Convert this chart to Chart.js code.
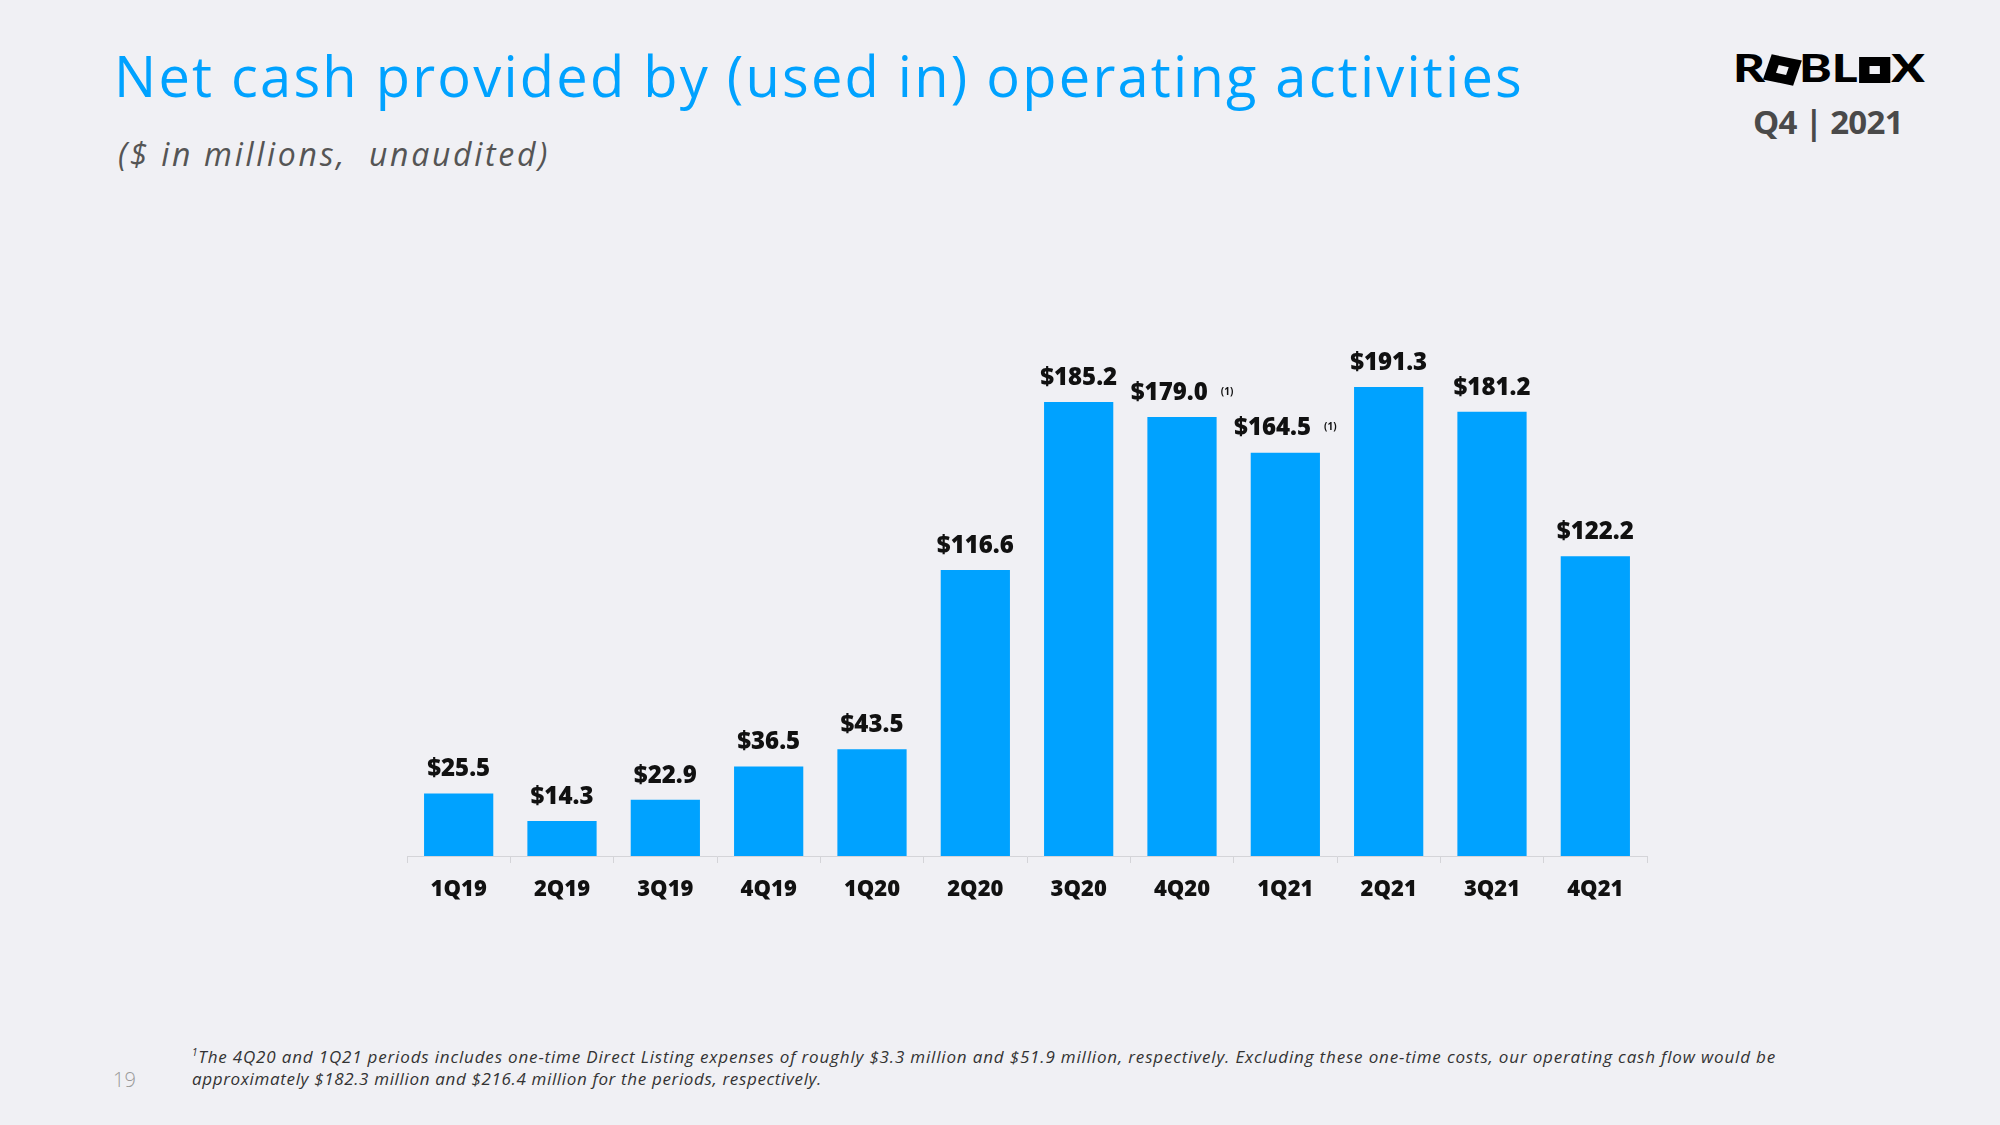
<!DOCTYPE html>
<html>
<head>
<meta charset="utf-8">
<script src="https://cdn.jsdelivr.net/npm/chart.js@4.4.0/dist/chart.umd.min.js"></script>
<style>
  html, body { margin:0; padding:0; }
  body { width:2000px; height:1125px; background:#f0f0f4; position:relative; overflow:hidden; font-family:"Open Sans", sans-serif; }
  .abs { position:absolute; white-space:nowrap; }
  #title { left:114px; top:37px; font-size:56px; color:#00a2ff; font-weight:400; }
  #subtitle { left:118px; top:132px; font-size:32px; color:#555; font-style:italic; }
  #logo { left:1733px; top:48px; font-family:Lato, sans-serif; font-weight:900; font-size:38px; color:#000; line-height:1; transform:scaleX(1.3); transform-origin:left center; }
  #logo i { display:inline-block; width:24px; height:26px; background:#000; position:relative; vertical-align:-1px; margin:0 1px; }
  #logo i:after { content:""; position:absolute; left:8px; top:9px; width:8px; height:8px; background:#f0f0f4; }
  #logo i.t { transform:rotate(15deg); }
  #quarter { left:1753px; top:99px; font-size:33px; font-weight:700; color:#4a4a4a; }
  #page { left:113px; top:1066px; font-size:20px; color:#9a9a9a; font-weight:300; }
  .note { left:192px; font-size:17px; font-style:italic; color:#333; }
  #note1 { top:1045px; }
  #note2 { top:1067px; }
  #note1 sup { font-size:10px; }
  #wrap { position:absolute; left:0; top:0; width:2000px; height:1125px; }
</style>
</head>
<body>
<div id="title" class="abs">Net cash provided by (used in) operating activities</div>
<div id="subtitle" class="abs">($ in millions,&nbsp; unaudited)</div>
<div id="logo" class="abs">R<i class="t"></i>BL<i></i>X</div>
<div id="quarter" class="abs">Q4 | 2021</div>
<div id="page" class="abs">19</div>
<div id="note1" class="abs note"><sup>1</sup>The 4Q20 and 1Q21 periods includes one-time Direct Listing expenses of roughly $3.3 million and $51.9 million, respectively. Excluding these one-time costs, our operating cash flow would be</div>
<div id="note2" class="abs note">approximately $182.3 million and $216.4 million for the periods, respectively.</div>
<div id="wrap"><canvas id="chart"></canvas></div>
<script>
// data
var quarters = ["1Q19", "2Q19", "3Q19", "4Q19", "1Q20", "2Q20", "3Q20", "4Q20", "1Q21", "2Q21", "3Q21", "4Q21"];
var cashFlow = [25.5, 14.3, 22.9, 36.5, 43.5, 116.6, 185.2, 179.0, 164.5, 191.3, 181.2, 122.2];
var footnoteMark = ["", "", "", "", "", "", "", "(1)", "(1)", "", "", ""];

// stretch the text so it spans the same width as on the slide
function fitWidth(id, target) {
    var el = document.getElementById(id);
    var w = el.getBoundingClientRect().width;
    var n = el.textContent.length;
    el.style.letterSpacing = ((target - w) / n) + "px";
}
fitWidth("title", 1410);
fitWidth("subtitle", 432);
fitWidth("quarter", 150);
fitWidth("note1", 1584);
fitWidth("note2", 630);

// labels on top of bars
var barLabels = {
    id: "barLabels",
    afterDatasetsDraw: function(chart) {
        var ctx = chart.ctx;
        var meta = chart.getDatasetMeta(0);
        ctx.save();
        ctx.fillStyle = "#111";
        ctx.textBaseline = "middle";
        meta.data.forEach(function(bar, i) {
            var txt = "$" + cashFlow[i].toFixed(1);
            ctx.font = "800 24px 'Open Sans'";
            var w = ctx.measureText(txt).width;
            var y = bar.y - 24;
            if (footnoteMark[i]) {
                ctx.font = "700 10px 'Open Sans'";
                var nw = ctx.measureText(footnoteMark[i]).width;
                var start = bar.x - (w + 13 + nw) / 2;
                ctx.textAlign = "left";
                ctx.font = "800 24px 'Open Sans'";
                ctx.fillText(txt, start, y);
                ctx.font = "700 10px 'Open Sans'";
                ctx.fillText(footnoteMark[i], start + w + 13, y - 1);
            } else {
                ctx.textAlign = "center";
                ctx.fillText(txt, bar.x, y);
            }
        });
        ctx.restore();
    }
};

var chart = new Chart(document.getElementById("chart"), {
    type: "bar",
    data: {
        labels: quarters,
        datasets: [{
            data: cashFlow,
            backgroundColor: "#00a2ff",
            barPercentage: 0.67,
            categoryPercentage: 1
        }]
    },
    options: {
        responsive: true,
        maintainAspectRatio: false,
        animation: false,
        layout: { padding: { left: 407, right: 353, top: 243, bottom: 209 } },
        plugins: { legend: { display: false }, tooltip: { enabled: false } },
        scales: {
            x: {
                afterFit: function(scale) { scale.height = 60; },
                grid: { display: true, drawOnChartArea: false, drawTicks: true, tickLength: 7, color: "#d4d4d8" },
                border: { display: true, color: "#d4d4d8" },
                ticks: { color: "#111", padding: 14, font: { family: "'Open Sans'", size: 22, weight: 800 } }
            },
            y: {
                display: false,
                min: 0,
                max: 250
            }
        }
    },
    plugins: [barLabels]
});
</script>
</body>
</html>
